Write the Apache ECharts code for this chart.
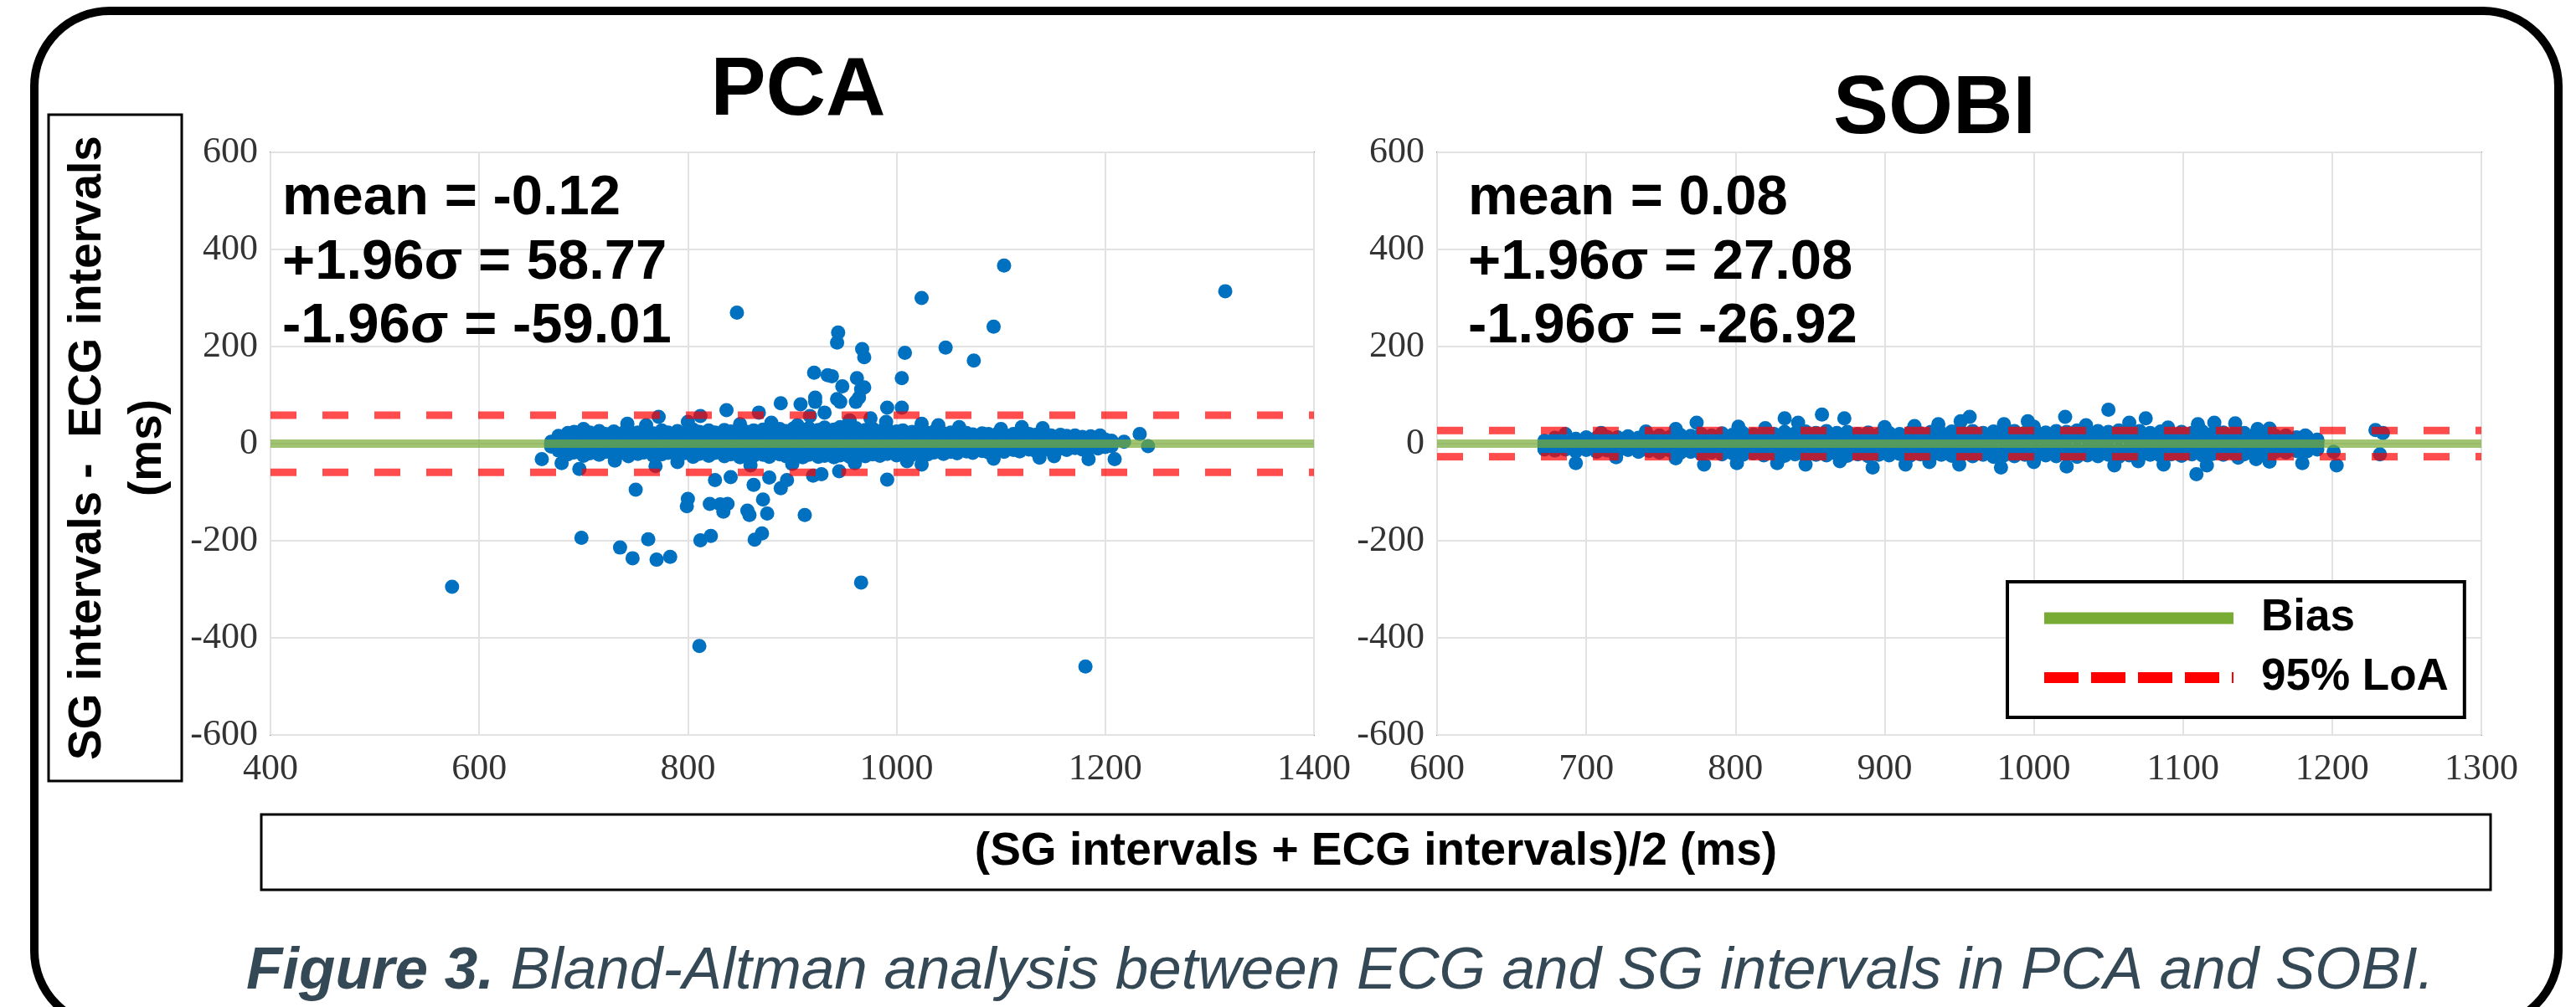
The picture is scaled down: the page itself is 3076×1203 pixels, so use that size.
<!DOCTYPE html>
<html><head><meta charset="utf-8">
<script src="https://cdn.jsdelivr.net/npm/echarts@6/dist/echarts.min.js"></script>
<style>html,body{margin:0;padding:0;background:#fff}#c{width:3076px;height:1203px}</style>
</head><body><div id="c"></div>
<script>
// ---------- DATA ----------
const pcaXTicks = [400, 600, 800, 1000, 1200, 1400];
const sobiXTicks = [600, 700, 800, 900, 1000, 1100, 1200, 1300];
const yTicks = [-600, -400, -200, 0, 200, 400, 600];

const pcaMean = -0.12, pcaUpper = 58.77, pcaLower = -59.01;
const sobiMean = 0.08, sobiUpper = 27.08, sobiLower = -26.92;

// dense band, one column per x: [x, y1, y2, y3, y4]
const pcaBand = [
 [669,4,0,-3,-6],[676,16,6,-4,-14],[685,22,9,-6,-22],[691,24,11,-5,-18],[700,20,7,-9,-25],
 [706,23,10,-6,-20],[715,26,8,-10,-23],[721,20,6,-5,-17],[729,25,9,-10,-24],[738,22,8,-6,-19],
 [743,28,12,-11,-26],[752,23,10,-7,-21],[758,25,8,-6,-18],[767,21,6,-10,-25],[775,27,11,-9,-22],
 [781,23,7,-5,-19],[790,26,10,-10,-24],[796,22,8,-6,-20],[805,29,12,-12,-27],[811,24,9,-7,-21],
 [820,27,10,-10,-25],[826,23,8,-5,-19],[835,28,11,-11,-26],[841,25,9,-8,-22],[850,30,13,-12,-28],
 [857,24,8,-6,-21],[863,27,10,-10,-25],[872,29,12,-8,-23],[878,25,9,-11,-27],[888,30,12,-7,-22],
 [894,26,9,-11,-26],[901,31,13,-8,-24],[910,27,10,-12,-28],[916,32,14,-8,-23],[925,28,10,-11,-27],
 [931,33,15,-9,-25],[940,29,11,-12,-28],[946,34,14,-8,-24],[955,30,11,-11,-27],[961,32,13,-7,-23],
 [970,28,10,-10,-26],[977,31,12,-7,-22],[984,26,9,-10,-25],[991,29,11,-6,-21],[1000,25,8,-10,-24],
 [1006,27,10,-5,-20],[1015,24,8,-9,-23],[1021,26,10,-4,-19],[1030,22,7,-9,-22],[1036,25,9,-4,-18],
 [1045,21,6,-8,-21],[1052,23,8,-3,-17],[1058,20,6,-8,-20],[1067,22,8,-3,-16],[1073,19,5,-7,-19],
 [1082,21,7,-2,-15],[1088,20,5,-7,-18],[1097,21,7,-2,-14],[1103,19,5,-6,-17],[1112,20,7,-1,-13],
 [1118,18,5,-5,-16],[1127,20,6,-1,-12],[1133,18,4,-5,-15],[1142,19,6,-1,-11],[1148,17,4,-4,-14],
 [1157,18,6,0,-10],[1163,16,4,-4,-13],[1171,17,5,0,-9],[1178,14,3,-4,-12],[1186,15,4,0,-8],
 [1193,11,2,-3,-10],[1200,8,2,-2,-7],[1206,6,1,-2,-5]
];
const pcaExtra = [
 [742,41],[772,55],[812,57],[837,69],[868,64],[880,43],[905,38],[889,83],[908,81],[917,57],
 [931,64],[922,95],[922,86],[943,92],[946,86],[961,86],[964,95],[948,118],[966,112],[969,116],
 [921,146],[934,141],[938,139],[962,135],[1005,135],[991,74],[1005,74],[1024,41],[1140,32],[800,45],
 [850,40],[760,38],[700,30],[955,48],[975,52],[990,45],[1040,38],[1060,34],[1100,30],[1120,34],
 [944,229],[943,208],[967,195],[969,178],[1008,187],[1047,198],[1074,171],[1093,241],[1103,367],
 [847,270],[1024,300],[1315,314],
 [660,-32],[679,-40],[696,-52],[750,-95],[769,-46],[826,-75],[841,-69],[863,-85],[878,-70],[889,-92],
 [895,-75],[920,-66],[928,-63],[945,-57],[991,-74],[1024,-43],[730,-35],[790,-38],[860,-45],[900,-42],
 [960,-40],[1010,-36],[1137,-29],[1151,-26],[1093,-31],[1184,-32],[1209,-32],
 [800,-114],[799,-129],[821,-124],[831,-125],[838,-124],[834,-140],[857,-138],[859,-147],[872,-115],
 [876,-144],[912,-147],
 [698,-194],[735,-214],[747,-236],[762,-197],[770,-239],[783,-233],[812,-199],[822,-190],[864,-198],
 [871,-185],[574,-295],[966,-286],[811,-417],[1181,-459],
 [1233,20],[1218,4],[1241,-5],[1195,17]
];

const sobiBand = [
 [672,6,2,-4,-10],[679,12,5,-3,-14],[686,14,6,-5,-12],[693,10,4,-6,-16],[700,13,5,-4,-13],
 [707,12,6,-7,-17],[714,14,5,-6,-14],[721,13,6,-5,-16],[728,15,7,-6,-13],[735,12,5,-8,-17],
 [742,15,6,-6,-15],[749,17,8,-8,-18],[756,14,6,-6,-14],[763,18,8,-9,-19],[770,16,7,-7,-17],
 [777,20,9,-9,-21],[784,17,7,-7,-18],[791,21,9,-10,-22],[798,18,8,-8,-20],[805,22,10,-10,-23],
 [812,19,8,-8,-20],[819,23,10,-10,-24],[826,20,8,-8,-21],[833,24,11,-11,-25],[840,21,9,-9,-22],
 [847,25,11,-11,-26],[854,22,9,-9,-23],[861,26,12,-10,-24],[868,22,9,-8,-21],[875,24,10,-11,-25],
 [882,20,8,-9,-22],[889,23,10,-11,-26],[896,19,8,-9,-23],[903,22,9,-10,-24],[910,20,8,-8,-21],
 [917,23,10,-11,-25],[924,21,9,-9,-22],[931,24,10,-11,-26],[938,22,9,-9,-23],[945,25,11,-11,-25],
 [952,23,10,-9,-22],[959,26,11,-11,-26],[966,22,9,-9,-23],[973,25,11,-12,-27],[980,23,10,-10,-24],
 [987,26,11,-11,-26],[994,22,9,-9,-23],[1001,25,11,-12,-27],[1008,23,10,-10,-24],[1015,26,11,-11,-26],
 [1022,24,10,-9,-23],[1029,27,12,-12,-27],[1036,23,10,-10,-24],[1043,26,11,-11,-26],[1050,24,10,-9,-23],
 [1057,27,12,-12,-27],[1064,23,10,-10,-24],[1071,26,11,-11,-26],[1078,22,9,-9,-23],[1085,25,11,-11,-25],
 [1092,21,9,-9,-22],[1099,24,10,-11,-25],[1106,22,9,-9,-22],[1113,25,11,-11,-24],[1120,21,9,-8,-21],
 [1127,23,10,-10,-23],[1134,20,8,-8,-20],[1141,22,9,-9,-22],[1148,18,7,-7,-19],[1155,20,8,-9,-21],
 [1162,16,6,-6,-17],[1169,17,7,-7,-18],[1176,13,5,-6,-15],[1183,14,5,-6,-16],[1190,8,3,-4,-12]
];
const sobiExtra = [
 [686,20],[774,43],[802,35],[833,52],[842,43],[858,60],[873,52],[936,40],[951,46],[957,55],
 [980,40],[996,46],[1021,55],[1050,70],[1064,43],[1075,52],[1110,40],[1121,43],[1135,42],[1158,31],
 [1182,17],[1190,5],[760,30],[820,32],[900,34],[920,36],[1000,35],[1035,38],[1090,33],[1150,30],
 [740,25],[710,22],
 [672,-12],[693,-40],[779,-43],[801,-40],[828,-40],[847,-43],[892,-49],[914,-43],[950,-43],[978,-49],
 [1022,-47],[1054,-45],[1087,-43],[1109,-63],[1116,-45],[1137,-29],[1149,-32],[1158,-37],[1180,-40],
 [1201,-17],[1203,-45],[760,-30],[720,-28],[870,-36],[930,-38],[1000,-38],[1070,-36],
 [1229,28],[1234,22],[1232,-22]
];

// ---------- BUILD ----------
function bandPoints(band, extra) {
  const pts = [];
  band.forEach(r => { for (let i = 1; i < r.length; i++) pts.push([r[0], r[i]]); });
  return pts.concat(extra);
}
const SANS = "'Liberation Sans', Arial, Helvetica, sans-serif";
const SERIF = "'Liberation Serif', 'Times New Roman', Times, serif";
const BLUE = '#0070c0', GREEN = '#78ab34', RED = '#ff0000';

function plainNum(v) { return String(v); }
function xAxisFor(ticks, gi) {
  return {
    gridIndex: gi, type: 'value', min: ticks[0], max: ticks[ticks.length - 1],
    interval: ticks[1] - ticks[0],
    axisLine: { show: false }, axisTick: { show: false },
    axisLabel: { fontSize: 44, fontFamily: SERIF, color: '#333', margin: 19, formatter: plainNum },
    splitLine: { show: true, lineStyle: { color: '#e2e2e2', width: 2 } }
  };
}
function yAxisFor(gi) {
  return {
    gridIndex: gi, type: 'value', min: yTicks[0], max: yTicks[yTicks.length - 1],
    interval: yTicks[1] - yTicks[0],
    axisLine: { show: false }, axisTick: { show: false },
    axisLabel: { fontSize: 44, fontFamily: SERIF, color: '#333', margin: 15, formatter: plainNum },
    splitLine: { show: true, lineStyle: { color: '#e2e2e2', width: 2 } }
  };
}
function hLine(name, gi, ticks, yv, color, dashed) {
  return {
    name: name, type: 'line', xAxisIndex: gi, yAxisIndex: gi, z: 5, silent: true,
    symbol: 'none', animation: false,
    data: [[ticks[0], yv], [ticks[ticks.length - 1], yv]],
    itemStyle: { color: color },
    lineStyle: dashed ? { color: color, width: 9, type: [31, 31], opacity: 0.7 }
                      : { color: color, width: 10, opacity: 0.7 }
  };
}
function scatter(gi, pts) {
  return {
    type: 'scatter', name: 'points' + gi, xAxisIndex: gi, yAxisIndex: gi, z: 2,
    symbolSize: 17, itemStyle: { color: BLUE, opacity: 1 }, data: pts, animation: false, silent: true
  };
}
function txt(x, y, text, size, opts) {
  return {
    type: 'text', x: x, y: y, z: 20,
    style: Object.assign({ text: text, fontSize: size, fontWeight: 'bold', fontFamily: SANS,
      fill: '#000', align: 'left', verticalAlign: 'middle' }, opts || {})
  };
}
function fmt(v) { return v.toFixed(2); }

const chart = echarts.init(document.getElementById('c'), null, { renderer: 'canvas' });
chart.setOption({
  backgroundColor: '#fff',
  animation: false,
  grid: [
    { left: 323, top: 182, width: 1246, height: 696, show: true, borderColor: '#8c8c8c', borderWidth: 2, backgroundColor: 'transparent' },
    { left: 1716, top: 182, width: 1247, height: 696, show: true, borderColor: '#8c8c8c', borderWidth: 2, backgroundColor: 'transparent' }
  ],
  xAxis: [xAxisFor(pcaXTicks, 0), xAxisFor(sobiXTicks, 1)],
  yAxis: [yAxisFor(0), yAxisFor(1)],
  legend: {
    orient: 'vertical', left: 2397, top: 695,
    padding: [17, 19, 21, 37], itemGap: 18, itemWidth: 226, itemHeight: 14,
    borderColor: '#000', borderWidth: 4, backgroundColor: '#fff',
    selectedMode: false,
    itemStyle: { opacity: 0 },
    textStyle: { fontSize: 53, fontWeight: 'bold', fontFamily: SANS, color: '#000', padding: [0, 0, 0, 28] },
    data: [
      { name: 'Bias', lineStyle: { color: GREEN, width: 14, opacity: 1, type: 'solid' } },
      { name: '95% LoA', lineStyle: { color: RED, width: 13, opacity: 1, type: [41, 15] } }
    ]
  },
  series: [
    scatter(0, bandPoints(pcaBand, pcaExtra)),
    scatter(1, bandPoints(sobiBand, sobiExtra)),
    hLine('Bias', 0, pcaXTicks, pcaMean, GREEN, false),
    hLine('95% LoA', 0, pcaXTicks, pcaUpper, RED, true),
    hLine('95% LoA', 0, pcaXTicks, pcaLower, RED, true),
    hLine('Bias', 1, sobiXTicks, sobiMean, GREEN, false),
    hLine('95% LoA', 1, sobiXTicks, sobiUpper, RED, true),
    hLine('95% LoA', 1, sobiXTicks, sobiLower, RED, true)
  ],
  graphic: [
    { type: 'rect', z: 1, shape: { x: 41, y: 13, width: 3014, height: 1213, r: 90 },
      style: { fill: 'none', stroke: '#000', lineWidth: 10 } },
    { type: 'rect', z: 10, shape: { x: 58, y: 137, width: 159, height: 796 },
      style: { fill: '#fff', stroke: '#000', lineWidth: 3 } },
    { type: 'text', z: 11, x: 141, y: 535, rotation: Math.PI / 2,
      style: { text: 'SG intervals -  ECG intervals\n(ms)', fontSize: 55, fontWeight: 'bold', fontFamily: SANS,
        fill: '#000', align: 'center', verticalAlign: 'middle', lineHeight: 72 } },
    { type: 'rect', z: 10, shape: { x: 312, y: 973, width: 2662, height: 90 },
      style: { fill: '#fff', stroke: '#000', lineWidth: 3 } },
    txt(1643, 1018, '(SG intervals + ECG intervals)/2 (ms)', 55, { align: 'center' }),
    txt(953, 110, 'PCA', 99, { align: 'center' }),
    txt(2310, 132, 'SOBI', 99, { align: 'center' }),
    txt(337, 238, 'mean = ' + fmt(pcaMean), 67),
    txt(337, 315, '+1.96\u03c3 = ' + fmt(pcaUpper), 67),
    txt(337, 391, '-1.96\u03c3 = ' + fmt(pcaLower), 67),
    txt(1753, 238, 'mean = ' + fmt(sobiMean), 67),
    txt(1753, 315, '+1.96\u03c3 = ' + fmt(sobiUpper), 67),
    txt(1753, 391, '-1.96\u03c3 = ' + fmt(sobiLower), 67),
    { type: 'text', z: 11, x: 294, y: 1161,
      style: { text: '{b|Figure 3.} Bland-Altman analysis between ECG and SG intervals in PCA and SOBI.',
        fontSize: 71, fontStyle: 'italic', fontFamily: SANS, fill: '#344955',
        align: 'left', verticalAlign: 'middle',
        rich: { b: { fontSize: 71, fontStyle: 'italic', fontWeight: 'bold', fontFamily: SANS, fill: '#344955' } } } }
  ]
});
</script></body></html>
